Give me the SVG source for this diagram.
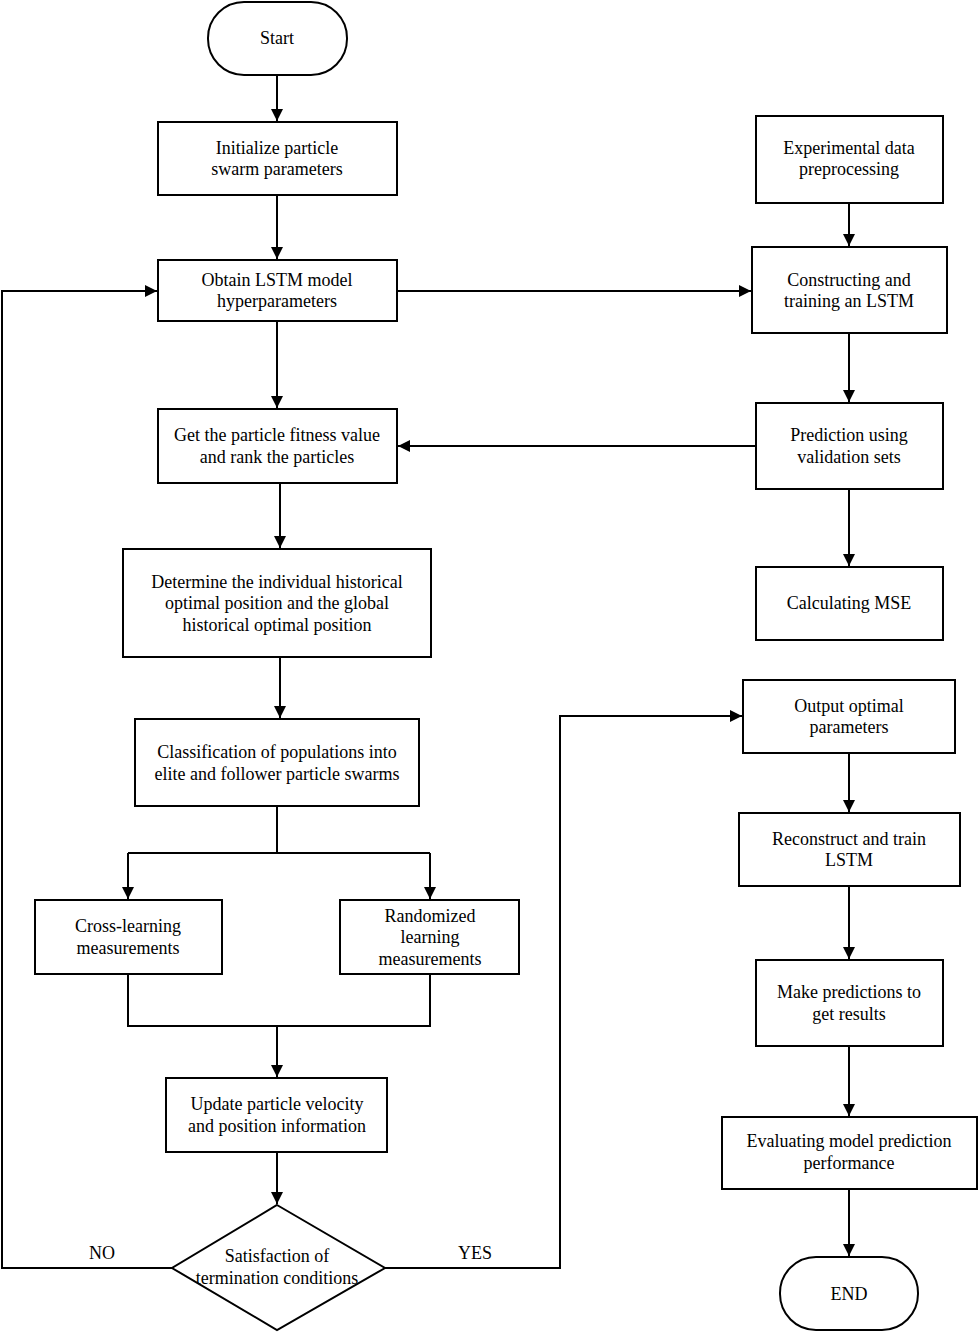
<svg xmlns="http://www.w3.org/2000/svg" width="978" height="1333" viewBox="0 0 978 1333">
<style>
.n{fill:#fff;stroke:#000;stroke-width:2}
.t{font-family:"Liberation Serif","Times New Roman",serif;font-size:18px;fill:#000;text-anchor:middle}
.c{fill:none;stroke:#000;stroke-width:2}
</style>
<defs>
<marker id="a" markerWidth="12" markerHeight="12" refX="12" refY="6" orient="auto" markerUnits="userSpaceOnUse">
<path d="M0,0 L12,6 L0,12 z" fill="#000"/>
</marker>
</defs>
<rect width="978" height="1333" fill="#fff"/>
<g id="connectors">
<path class="c" d="M277,75 V121" marker-end="url(#a)"/>
<path class="c" d="M277,195 V259" marker-end="url(#a)"/>
<path class="c" d="M277,321 V408" marker-end="url(#a)"/>
<path class="c" d="M280,483 V548" marker-end="url(#a)"/>
<path class="c" d="M280,657 V718" marker-end="url(#a)"/>
<path class="c" d="M277,806 V853"/>
<path class="c" d="M128,853 H430"/>
<path class="c" d="M128,853 V899" marker-end="url(#a)"/>
<path class="c" d="M430,853 V899" marker-end="url(#a)"/>
<path class="c" d="M128,974 V1026 H430 V974"/>
<path class="c" d="M277,1026 V1077" marker-end="url(#a)"/>
<path class="c" d="M277,1152 V1204" marker-end="url(#a)"/>
<path class="c" d="M172,1268 H2 V291 H157" marker-end="url(#a)"/>
<path class="c" d="M385,1268 H560 V716 H742" marker-end="url(#a)"/>
<path class="c" d="M397,291 H751" marker-end="url(#a)"/>
<path class="c" d="M849,203 V246" marker-end="url(#a)"/>
<path class="c" d="M849,333 V402" marker-end="url(#a)"/>
<path class="c" d="M756,446 H398" marker-end="url(#a)"/>
<path class="c" d="M849,489 V566" marker-end="url(#a)"/>
<path class="c" d="M849,753 V812" marker-end="url(#a)"/>
<path class="c" d="M849,886 V959" marker-end="url(#a)"/>
<path class="c" d="M849,1046 V1116" marker-end="url(#a)"/>
<path class="c" d="M849,1189 V1256" marker-end="url(#a)"/>
</g>
<g id="start"><rect class="n" x="208" y="2" width="139" height="73" rx="36" ry="36"/><text class="t" x="277" y="44">Start</text></g>
<g id="init"><rect class="n" x="158" y="122" width="239" height="73"/><text class="t" x="277" y="154">Initialize particle</text><text class="t" x="277" y="175">swarm parameters</text></g>
<g id="obtain"><rect class="n" x="158" y="260" width="239" height="61"/><text class="t" x="277" y="286">Obtain LSTM model</text><text class="t" x="277" y="307">hyperparameters</text></g>
<g id="fitness"><rect class="n" x="158" y="409" width="239" height="74"/><text class="t" x="277" y="441">Get the particle fitness value</text><text class="t" x="277" y="463">and rank the particles</text></g>
<g id="determine"><rect class="n" x="123" y="549" width="308" height="108"/><text class="t" x="277" y="588">Determine the individual historical</text><text class="t" x="277" y="609">optimal position and the global</text><text class="t" x="277" y="631">historical optimal position</text></g>
<g id="classify"><rect class="n" x="135" y="719" width="284" height="87"/><text class="t" x="277" y="758">Classification of populations into</text><text class="t" x="277" y="780">elite and follower particle swarms</text></g>
<g id="cross"><rect class="n" x="35" y="900" width="187" height="74"/><text class="t" x="128" y="932">Cross-learning</text><text class="t" x="128" y="954">measurements</text></g>
<g id="random"><rect class="n" x="340" y="900" width="179" height="74"/><text class="t" x="430" y="922">Randomized</text><text class="t" x="430" y="943">learning</text><text class="t" x="430" y="965">measurements</text></g>
<g id="update"><rect class="n" x="166" y="1078" width="221" height="74"/><text class="t" x="277" y="1110">Update particle velocity</text><text class="t" x="277" y="1132">and position information</text></g>
<g id="decision"><polygon class="n" points="277,1205 385,1268 277,1330 172,1268"/><text class="t" x="277" y="1262">Satisfaction of</text><text class="t" x="277" y="1284">termination conditions</text></g>
<g id="labels"><text class="t" x="102" y="1259">NO</text><text class="t" x="475" y="1259">YES</text></g>
<g id="exp"><rect class="n" x="756" y="116" width="187" height="87"/><text class="t" x="849" y="154">Experimental data</text><text class="t" x="849" y="175">preprocessing</text></g>
<g id="construct"><rect class="n" x="752" y="247" width="195" height="86"/><text class="t" x="849" y="286">Constructing and</text><text class="t" x="849" y="307">training an LSTM</text></g>
<g id="predict"><rect class="n" x="756" y="403" width="187" height="86"/><text class="t" x="849" y="441">Prediction using</text><text class="t" x="849" y="463">validation sets</text></g>
<g id="mse"><rect class="n" x="756" y="567" width="187" height="73"/><text class="t" x="849" y="609">Calculating MSE</text></g>
<g id="output"><rect class="n" x="743" y="680" width="212" height="73"/><text class="t" x="849" y="712">Output optimal</text><text class="t" x="849" y="733">parameters</text></g>
<g id="reconstruct"><rect class="n" x="739" y="813" width="221" height="73"/><text class="t" x="849" y="845">Reconstruct and train</text><text class="t" x="849" y="866">LSTM</text></g>
<g id="make"><rect class="n" x="756" y="960" width="187" height="86"/><text class="t" x="849" y="998">Make predictions to</text><text class="t" x="849" y="1020">get results</text></g>
<g id="evaluate"><rect class="n" x="722" y="1117" width="255" height="72"/><text class="t" x="849" y="1147">Evaluating model prediction</text><text class="t" x="849" y="1169">performance</text></g>
<g id="end"><rect class="n" x="780" y="1257" width="138" height="73" rx="36" ry="36"/><text class="t" x="849" y="1300">END</text></g>
</svg>
